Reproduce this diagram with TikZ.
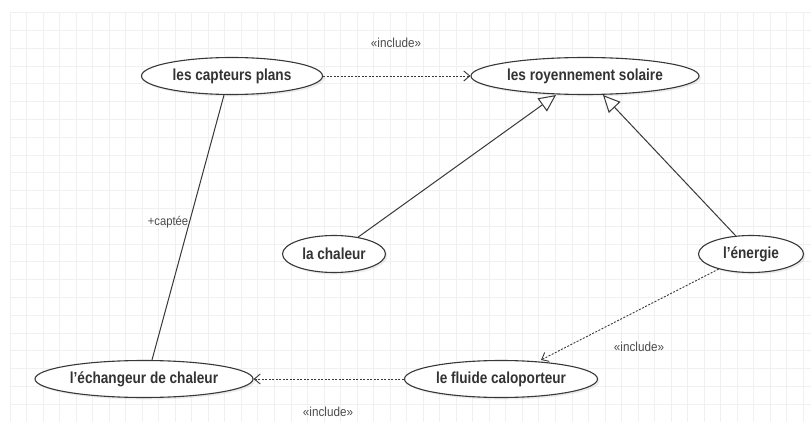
\documentclass[tikz,border=0pt]{standalone}
\usepackage{fontspec}
\setmainfont{Liberation Sans}
\newfontfamily\ucfont[FakeStretch=0.85]{Liberation Sans}
\newfontfamily\lblfont[FakeStretch=0.9]{Liberation Sans}
\usepackage{xcolor}
\definecolor{ln}{gray}{0.22}
\definecolor{gd}{gray}{0.94}
\usetikzlibrary{arrows.meta, shapes.geometric, shadows}

\begin{document}
\begin{tikzpicture}[x=1pt, y=-1pt,
  uc/.style={ellipse, draw=ln, line width=1.1pt, fill=white, inner sep=0pt, minimum height=37pt,
    font=\ucfont\fontsize{16}{18}\selectfont\bfseries, text=black!80,
    drop shadow={shadow xshift=2pt, shadow yshift=-2pt, opacity=.15}},
  incl/.style={ln, line width=0.9pt, dash pattern=on 2pt off 1.5pt, -{Straight Barb[length=6pt, width=10pt]}},
  gen/.style={ln, line width=1pt, -{Triangle[open, length=17pt, width=16pt, fill=white]}},
  stereo/.style={font=\lblfont\fontsize{13}{15}\selectfont, text=black!70}]
\useasboundingbox (0,0) rectangle (811,422);
\fill[white] (0,0) rectangle (811,422);
\draw[gd, line width=1pt, xstep=16.53pt, ystep=17.8pt, shift={(10,12.7)}] (0,0) grid (801,410);
% use cases
\foreach \n/\x/\y/\w/\t in {capt/232/76/181pt/les capteurs plans, sol/585/76/228pt/les royennement solaire,
  chal/334/254/103pt/la chaleur, ener/751/254/105pt/l’énergie,
  echang/144/379/218pt/l’échangeur de chaleur, fluide/501/379/193pt/le fluide caloporteur}{
\node[uc, minimum width=\w] (\n) at (\x,\y) {\t};
}
% relations
\draw[incl] (capt) -- (sol);
\draw[ln, line width=1pt] ([xshift=-8pt]capt.south) -- ([xshift=8pt]echang.north);
\draw[gen] (chal.35) -- ([xshift=-29pt]sol.south);
\draw[gen] (ener.130) -- ([xshift=18pt]sol.south);
\draw[incl] (ener.205) -- ([xshift=40pt]fluide.north);
\draw[incl] (fluide) -- (echang);
% labels
\node[stereo] (inc1) at (396,43) {«include»};
\node[stereo] (inc2) at (639,347) {«include»};
\node[stereo] (inc3) at (328,412) {«include»};
\node[stereo, font=\lblfont\fontsize{12.5}{14}\selectfont] (capte) at (168,222) {+captée};
\end{tikzpicture}
\end{document}
